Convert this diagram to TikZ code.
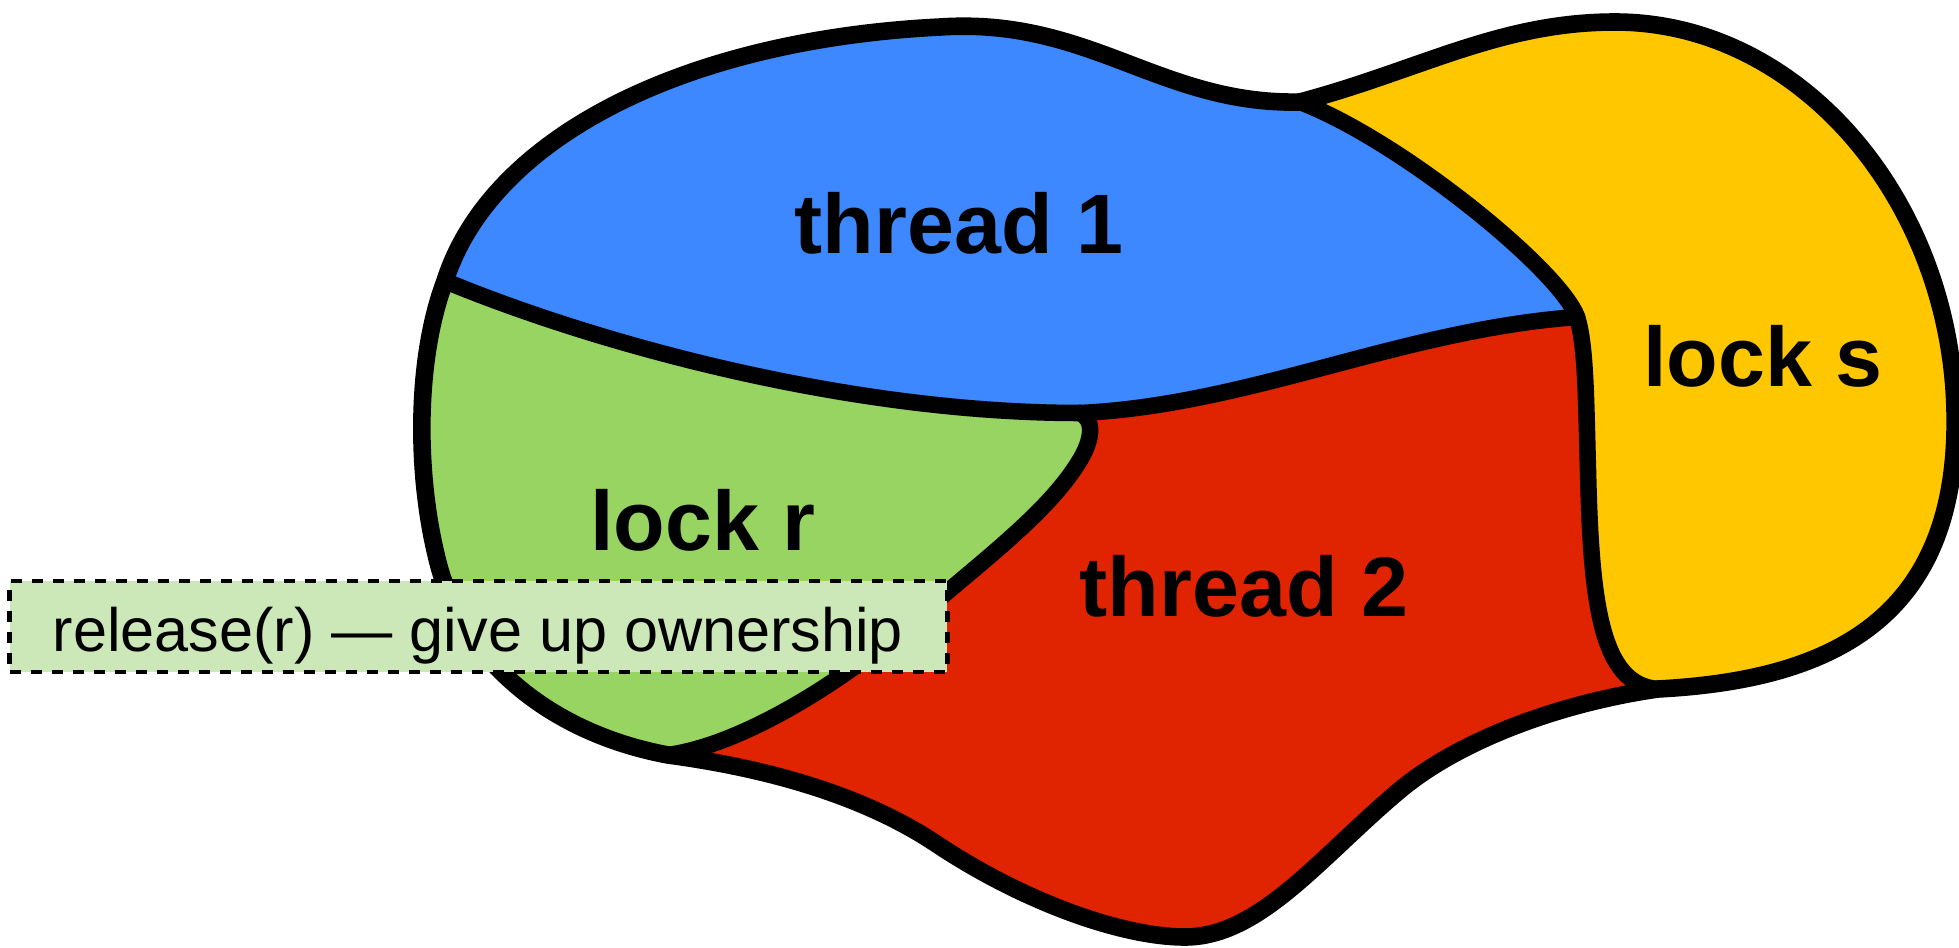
\documentclass[tikz,border=0pt]{standalone}
\usepackage{fontspec}
\setmainfont{Liberation Sans}
\definecolor{tblue}{HTML}{3D88FE}
\definecolor{tgreen}{HTML}{98D462}
\definecolor{tred}{HTML}{E02300}
\definecolor{tyellow}{HTML}{FEC700}
\definecolor{boxgreen}{HTML}{CDE8B8}
\tikzset{
  outline/.style={line width=5pt, line join=round, line cap=round},
  divider/.style={line width=4.7pt, line join=round, line cap=round},
  lbl/.style={font=\fontsize{24}{28}\selectfont\bfseries, anchor=base, inner sep=0pt},
  notebox/.style={draw, dash pattern=on 0.11cm off 0.10cm, line width=1.4pt, fill=boxgreen, minimum width=9.37cm, minimum height=0.91cm, inner sep=0pt},
  notetext/.style={font=\fontsize{17.4}{20}\selectfont, anchor=base, inner sep=0pt}
}
\begin{document}
\begin{tikzpicture}[x=0.01cm, y=-0.01cm]
\useasboundingbox (0,0) rectangle (1959,948);
% junctions and waypoints
\coordinate (A) at (445,281);
\coordinate (B) at (1300,102);
\coordinate (C) at (1658,689);
\coordinate (D) at (668,755);
\coordinate (E) at (1080,413);
\coordinate (F) at (1577,317);
\coordinate (T1) at (940,27);
\coordinate (T2) at (1615,22);
\coordinate (T3) at (1955,410);
\coordinate (P1) at (1400,790);
\coordinate (P2) at (1185,937);
\coordinate (P3) at (935,843);
\coordinate (P4) at (440,570);
\coordinate (Q1) at (1080,460);
\coordinate (Q2) at (920,615);
\coordinate (R1) at (1588,470);
% blue region (thread 1)
\fill[tblue] (A) .. controls (490,140) and (680,40) .. (T1) .. controls (1090,17) and (1160,105) .. (B)
  .. controls (1400,140) and (1560,270) .. (F)
  .. controls (1400,330) and (1250,405) .. (E)
  .. controls (850,413) and (600,345) .. (A) -- cycle;
% green region (lock r)
\fill[tgreen] (A) .. controls (600,345) and (850,413) .. (E)
  .. controls (1095,420) and (1092,440) .. (Q1) .. controls (1050,510) and (990,555) .. (Q2) .. controls (840,685) and (740,745) .. (D)
  .. controls (560,735) and (470,670) .. (P4) .. controls (415,480) and (415,360) .. (A) -- cycle;
% red region (thread 2)
\fill[tred] (E) .. controls (1250,405) and (1400,330) .. (F)
  .. controls (1586,345) and (1586,400) .. (R1) .. controls (1591,600) and (1600,685) .. (C)
  .. controls (1560,703) and (1460,740) .. (P1) .. controls (1320,857) and (1260,937) .. (P2) .. controls (1120,937) and (1020,900) .. (P3) .. controls (870,800) and (780,770) .. (D)
  .. controls (740,745) and (840,685) .. (Q2) .. controls (990,555) and (1050,510) .. (Q1) .. controls (1092,440) and (1095,420) .. (E) -- cycle;
% yellow region (lock s)
\fill[tyellow] (B) .. controls (1420,70) and (1500,22) .. (T2) .. controls (1800,22) and (1950,200) .. (T3) .. controls (1960,620) and (1830,680) .. (C)
  .. controls (1600,685) and (1591,600) .. (R1) .. controls (1586,400) and (1586,345) .. (F)
  .. controls (1560,270) and (1400,140) .. (B) -- cycle;
% dividing lines
\draw[divider] (A) .. controls (600,345) and (850,413) .. (E);
\draw[divider] (E) .. controls (1095,420) and (1092,440) .. (Q1) .. controls (1050,510) and (990,555) .. (Q2) .. controls (840,685) and (740,745) .. (D);
\draw[divider] (E) .. controls (1250,405) and (1400,330) .. (F);
\draw[divider] (B) .. controls (1400,140) and (1560,270) .. (F);
\draw[divider] (F) .. controls (1586,345) and (1586,400) .. (R1) .. controls (1591,600) and (1600,685) .. (C);
% outer outline
\draw[outline] (A) .. controls (490,140) and (680,40) .. (T1) .. controls (1090,17) and (1160,105) .. (B)
  .. controls (1420,70) and (1500,22) .. (T2) .. controls (1800,22) and (1950,200) .. (T3) .. controls (1960,620) and (1830,680) .. (C)
  .. controls (1560,703) and (1460,740) .. (P1) .. controls (1320,857) and (1260,937) .. (P2) .. controls (1120,937) and (1020,900) .. (P3) .. controls (870,800) and (780,770) .. (D)
  .. controls (560,735) and (470,670) .. (P4) .. controls (415,480) and (415,360) .. (A) -- cycle;
% labels
\node[lbl] (t1) at (959,253) {thread 1};
\node[lbl] (t2) at (1244,616) {thread 2};
\node[lbl] (lr) at (703,550) {lock r};
\node[lbl] (ls) at (1763,386) {lock s};
% note box
\node[notebox] (box) at (478.5,626.5) {};
\node[notetext] (boxtext) at (478,651) {release(r) — give up ownership};
\end{tikzpicture}
\end{document}
